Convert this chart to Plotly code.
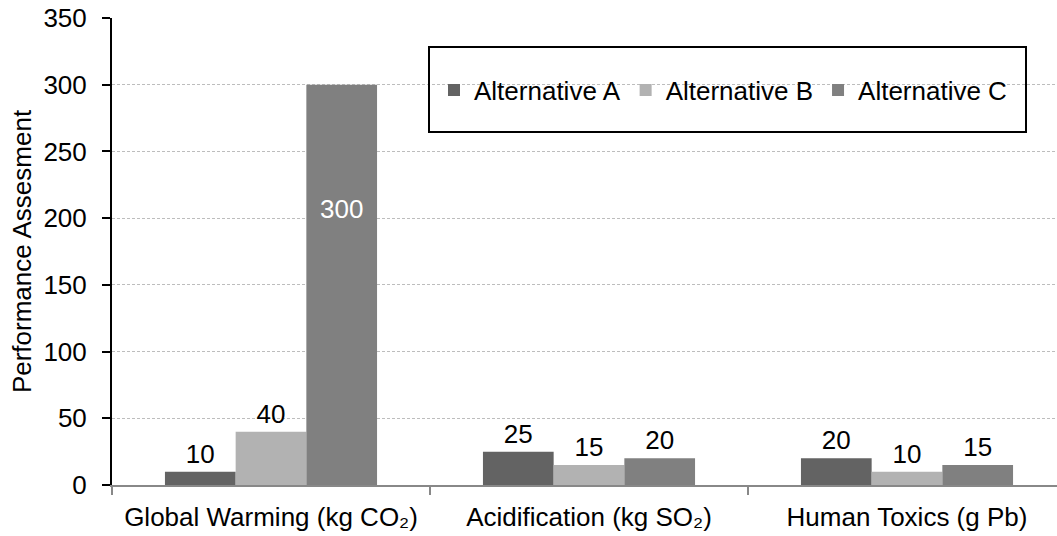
import plotly.graph_objects as go

categories = ["Global Warming (kg CO₂)", "Acidification (kg SO₂)", "Human Toxics (g Pb)"]
series_names = ["Alternative A", "Alternative B", "Alternative C"]
alt_a = [10, 25, 20]
alt_b = [40, 15, 10]
alt_c = [300, 20, 15]
colors = ["rgb(99,99,99)", "rgb(178,178,178)", "rgb(128,128,128)"]
y_ticks = [0, 50, 100, 150, 200, 250, 300, 350]

FONT = "Liberation Sans, Arial, sans-serif"
FS = 26

fig = go.Figure()
for name, vals, col in zip(series_names, [alt_a, alt_b, alt_c], colors):
    fig.add_trace(go.Bar(
        x=categories, y=vals, name=name,
        marker=dict(color=col, line=dict(width=0)),
        text=[str(v) for v in vals],
        textposition=["outside" if v < 200 else "none" for v in vals],
        textfont=dict(family=FONT, size=FS, color="black"),
        cliponaxis=False,
    ))

# in-bar label for the tall bar
for i, v in enumerate(alt_c):
    if v >= 200:
        fig.add_annotation(x=categories[i], y=v * 0.69, xshift=318 * 0.667 / 3,
                           text=str(v), showarrow=False,
                           font=dict(family=FONT, size=FS, color="white"))

# legend frame
fig.add_shape(type="rect", xref="paper", yref="paper",
              x0=(429 - 112) / 945, x1=(1026 - 112) / 945,
              y0=(485 - 132) / 467, y1=(485 - 47) / 467,
              line=dict(color="black", width=2), fillcolor="rgba(0,0,0,0)")

fig.update_layout(
    width=1057, height=536,
    margin=dict(l=112, r=0, t=18, b=51, autoexpand=False),
    paper_bgcolor="white", plot_bgcolor="white",
    font=dict(family=FONT, size=FS, color="black"),
    barmode="group", bargap=0.333, bargroupgap=0,
    showlegend=True,
    legend=dict(orientation="h", x=(434 - 112) / 945, xanchor="left",
                y=(485 - 90) / 467, yanchor="middle",
                bgcolor="rgba(0,0,0,0)", borderwidth=0,
                font=dict(family=FONT, size=FS, color="black"),
                traceorder="normal"),
    xaxis=dict(type="category", range=[-0.5, -0.5 + 945 / 318],
               showline=True, linecolor="#888888", linewidth=2,
               ticks="outside", tickson="boundaries", tickcolor="#888888",
               ticklen=8, tickwidth=2, showgrid=False, ticklabelstandoff=8,
               tickfont=dict(family=FONT, size=FS, color="black")),
    yaxis=dict(range=[0, 350], tickvals=y_ticks,
               showline=True, linecolor="black", linewidth=2,
               ticks="outside", tickcolor="black", ticklen=8, tickwidth=2,
               ticklabelstandoff=10,
               showgrid=True, gridcolor="#bdbdbd", gridwidth=1, griddash="3px,2px",
               zeroline=False,
               tickfont=dict(family=FONT, size=FS, color="black"),
               title=dict(text="Performance Assesment", standoff=4,
                          font=dict(family=FONT, size=FS, color="black"))),
)

fig.write_html("out.html")
